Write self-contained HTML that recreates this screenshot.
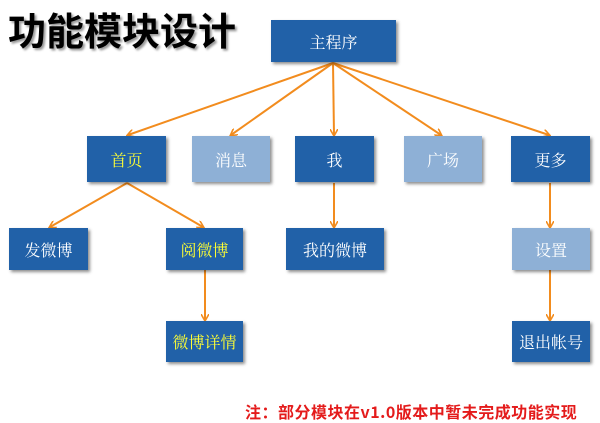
<!DOCTYPE html>
<html><head><meta charset="utf-8"><style>
body{margin:0;width:600px;height:423px;background:#fff;position:relative;overflow:hidden;font-family:"Liberation Sans","Noto Sans CJK SC",sans-serif}
.b{position:absolute;background:#2161a8;color:#fff;display:flex;align-items:center;justify-content:center;font-size:16px;box-shadow:2px 2px 3px rgba(0,0,0,.45);font-family:"Noto Serif CJK SC","Noto Sans CJK SC",serif}
.l{background:#8eb0d6}
.y{color:#ffff33}
.t{position:absolute;left:8px;top:1px;font-size:38px;font-weight:bold;color:#000;text-shadow:2px 2px 2px #999;font-family:"Noto Sans CJK SC",sans-serif}
.n{position:absolute;left:245px;top:399px;font-size:16px;letter-spacing:0.5px;font-weight:bold;color:#e41b1b;font-family:"Noto Sans CJK SC",sans-serif;white-space:nowrap}
</style></head><body>
<div class="t">功能模块设计</div>
<svg width="600" height="423" style="position:absolute;left:0;top:0">
<defs><marker id="a" markerWidth="8" markerHeight="8" refX="6" refY="4" orient="auto" markerUnits="userSpaceOnUse"><path d="M0,0 L7,4 L0,8" fill="none" stroke="#f28c1e" stroke-width="1.6"/></marker></defs>
<g stroke="#f28c1e" stroke-width="2" marker-end="url(#a)" fill="none">
<line x1="333" y1="63" x2="128" y2="135"/>
<line x1="333" y1="63" x2="231" y2="135"/>
<line x1="333" y1="63" x2="334" y2="135"/>
<line x1="333" y1="63" x2="441" y2="135"/>
<line x1="333" y1="63" x2="549" y2="135"/>
<line x1="127" y1="183" x2="50" y2="227"/>
<line x1="127" y1="183" x2="203" y2="227"/>
<line x1="334" y1="183" x2="334" y2="227"/>
<line x1="550" y1="183" x2="550" y2="227"/>
<line x1="205" y1="270" x2="205" y2="320"/>
<line x1="550" y1="270" x2="550" y2="320"/>
</g></svg>
<div class="b" style="left:271px;top:20px;width:125px;height:42px">主程序</div>
<div class="b y" style="left:87px;top:136px;width:79px;height:46px">首页</div>
<div class="b l" style="left:192px;top:136px;width:78px;height:46px">消息</div>
<div class="b" style="left:295px;top:136px;width:79px;height:46px">我</div>
<div class="b l" style="left:404px;top:136px;width:78px;height:46px">广场</div>
<div class="b" style="left:511px;top:136px;width:79px;height:46px">更多</div>
<div class="b" style="left:9px;top:228px;width:79px;height:42px">发微博</div>
<div class="b y" style="left:166px;top:228px;width:77px;height:42px">阅微博</div>
<div class="b" style="left:286px;top:228px;width:98px;height:42px">我的微博</div>
<div class="b l" style="left:512px;top:228px;width:78px;height:42px">设置</div>
<div class="b y" style="left:166px;top:321px;width:77px;height:41px">微博详情</div>
<div class="b" style="left:512px;top:321px;width:78px;height:41px">退出帐号</div>
<div class="n">注：部分模块在v1.0版本中暂未完成功能实现</div>
</body></html>
